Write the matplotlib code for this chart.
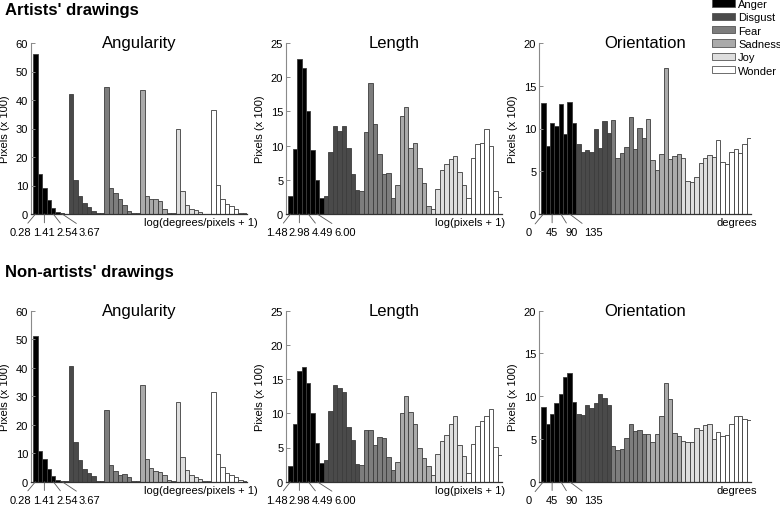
import matplotlib
matplotlib.use('Agg')
import matplotlib.pyplot as plt
from matplotlib.patches import Patch
import numpy as np

plt.rcParams['font.family'] = ['Liberation Sans', 'DejaVu Sans']

emotions = ['Anger', 'Disgust', 'Fear', 'Sadness', 'Joy', 'Wonder']
colors = ['#000000', '#4a4a4a', '#7d7d7d', '#aaaaaa', '#dedede', '#ffffff']

# Artists' drawings (Pixels x 100), 8 bins per emotion
art_angularity = [
    [56.3, 14.1, 9.0, 4.8, 2.2, 0.8, 0.2, 0.1],
    [42.1, 11.8, 6.4, 4.0, 2.6, 1.2, 0.3, 0.3],
    [44.5, 9.0, 7.3, 5.3, 3.3, 1.2, 0.3, 0.3],
    [43.4, 6.4, 5.1, 5.3, 4.6, 1.9, 0.3, 0.3],
    [30.0, 8.1, 3.2, 1.8, 1.3, 0.7, 0.1, 0.1],
    [36.4, 10.1, 5.3, 3.5, 2.8, 1.6, 0.4, 0.2],
]
art_length = [
    [2.6, 9.5, 22.6, 21.4, 15.0, 9.3, 4.9, 2.4],
    [2.7, 9.0, 12.9, 12.1, 12.8, 9.7, 5.9, 3.5],
    [3.4, 12.0, 19.1, 13.2, 8.7, 5.8, 6.0, 2.4],
    [4.3, 14.4, 15.7, 9.6, 10.4, 6.7, 4.5, 1.2],
    [0.8, 3.6, 6.5, 7.3, 8.0, 8.5, 6.2, 4.3],
    [2.4, 8.2, 10.3, 10.4, 12.5, 10.0, 3.4, 2.5],
]
art_orientation = [
    [13.0, 8.0, 10.6, 10.3, 12.9, 9.3, 13.1, 10.6],
    [8.2, 7.2, 7.5, 7.3, 10.0, 7.7, 10.9, 9.5],
    [11.0, 6.6, 7.1, 7.8, 11.3, 7.6, 10.1, 8.9],
    [11.1, 6.3, 5.2, 7.0, 17.1, 6.4, 6.8, 7.0],
    [6.5, 3.9, 3.8, 4.3, 6.0, 6.6, 6.9, 6.7],
    [8.6, 6.1, 5.9, 7.3, 7.6, 7.1, 8.2, 8.9],
]

# Non-artists' drawings
non_angularity = [
    [51.2, 10.6, 7.9, 4.4, 2.1, 0.7, 0.2, 0.1],
    [40.5, 13.8, 7.5, 4.4, 3.2, 2.0, 0.4, 0.2],
    [25.0, 5.9, 3.7, 2.5, 2.7, 1.7, 0.3, 0.2],
    [34.0, 7.8, 4.7, 3.7, 3.4, 2.4, 0.5, 0.3],
    [27.8, 8.6, 4.0, 2.3, 1.5, 0.8, 0.2, 0.1],
    [31.3, 9.7, 5.1, 3.2, 2.3, 1.5, 0.5, 0.2],
]
non_length = [
    [2.3, 8.4, 16.2, 16.8, 14.4, 10.1, 5.7, 2.8],
    [3.1, 10.4, 14.1, 13.7, 13.1, 8.0, 6.1, 2.6],
    [2.5, 7.5, 7.6, 5.3, 6.5, 6.4, 3.6, 1.7],
    [2.9, 10.1, 12.6, 10.2, 8.4, 5.0, 3.5, 2.3],
    [1.0, 4.0, 6.0, 6.8, 8.5, 9.6, 5.3, 3.8],
    [1.2, 5.5, 8.2, 8.9, 9.6, 10.6, 5.1, 3.9],
]
non_orientation = [
    [8.7, 6.7, 7.9, 9.2, 10.3, 12.3, 12.7, 9.3],
    [7.9, 7.8, 9.0, 8.6, 9.2, 10.3, 9.8, 9.0],
    [4.2, 3.7, 3.8, 5.1, 6.8, 5.9, 6.1, 5.6],
    [5.6, 4.7, 5.6, 7.7, 11.6, 9.7, 5.7, 5.3],
    [4.8, 4.7, 4.7, 6.3, 6.1, 6.6, 6.7, 5.0],
    [5.8, 5.3, 5.5, 6.8, 7.7, 7.7, 7.3, 7.2],
]

ang_ticklabels = ['0.28', '1.41', '2.54', '3.67']
len_ticklabels = ['1.48', '2.98', '4.49', '6.00']
ori_ticklabels = ['0', '45', '90', '135']
tick_bins = [0, 2, 4, 6]

W, H = 780, 506
fig = plt.figure(figsize=(W / 100, H / 100), dpi=100)

def px_axes(left, top, width, height):
    return fig.add_axes([left / W, (H - top - height) / H, width / W, height / H])

panels_top = [
    ('Angularity', art_angularity, 60, 10, ang_ticklabels, 'log(degrees/pixels + 1)', 31, 216, [-15, 0, 14, 27], 11),
    ('Length', art_length, 25, 5, len_ticklabels, 'log(pixels + 1)', 286, 216, [-14, 0, 14, 28], 3),
    ('Orientation', art_orientation, 20, 5, ori_ticklabels, 'degrees', 539, 212, [-15, 0, 11, 24], 6),
]
panels_bot = [
    ('Angularity', non_angularity, 60, 10, ang_ticklabels, 'log(degrees/pixels + 1)', 31, 216, [-15, 0, 14, 27], 11),
    ('Length', non_length, 25, 5, len_ticklabels, 'log(pixels + 1)', 286, 216, [-14, 0, 14, 28], 3),
    ('Orientation', non_orientation, 20, 5, ori_ticklabels, 'degrees', 539, 212, [-15, 0, 11, 24], 6),
]

def draw(ax, title, data, ymax, ystep, ticklabels, xlabel, offsets, xl_off, width_px):
    heights = np.concatenate([np.asarray(d) for d in data])
    cols = np.repeat(colors, [len(d) for d in data])
    x = np.arange(len(heights))
    ax.bar(x, heights, width=1.0, color=cols, edgecolor='#3c3c3c', linewidth=0.6)
    ax.set_xlim(-1.0, 47.5)
    ax.set_ylim(0, ymax)
    ax.set_yticks(np.arange(0, ymax + 0.1, ystep))
    ax.set_xticks([])
    for s in ['top', 'right']:
        ax.spines[s].set_visible(False)
    ax.spines['left'].set_color('#8a8a8a')
    ax.spines['left'].set_linewidth(0.8)
    ax.spines['bottom'].set_color('#333333')
    ax.spines['bottom'].set_linewidth(0.9)
    ax.tick_params(axis='y', direction='in', length=3, width=0.7, color='#8a8a8a',
                   labelsize=8, pad=2)
    ax.set_ylabel('Pixels (x 100)', fontsize=8, va='center')
    ax.yaxis.set_label_coords(-26.0 / width_px, 0.5)
    ax.text(0.5, 1.0, title, transform=ax.transAxes, ha='center', va='center', fontsize=12)
    ax.text(1.0 + xl_off / width_px, -8.5 / 171, xlabel, transform=ax.transAxes,
            ha='right', va='center', fontsize=8)
    for b, lab, dx in zip(tick_bins, ticklabels, offsets):
        ax.annotate(lab, xy=(b, 0), xycoords='data',
                    xytext=(dx / 1.389, -18 / 1.389), textcoords='offset points',
                    ha='center', va='center', fontsize=8, annotation_clip=False,
                    arrowprops=dict(arrowstyle='-', lw=0.6, color='#555555',
                                    shrinkA=1, shrinkB=0))

for row_top, panels in [(44, panels_top), (311.7, panels_bot)]:
    for (title, data, ymax, ystep, tl, xl, left, wpx, offs, xl_off) in panels:
        ax = px_axes(left, row_top, wpx, 171)
        draw(ax, title, data, ymax, ystep, tl, xl, offs, xl_off, wpx)

fig.text(5 / W, 1 - 10 / H, "Artists' drawings", fontsize=12, fontweight='bold', ha='left', va='center')
fig.text(5 / W, 1 - 273 / H, "Non-artists' drawings", fontsize=12, fontweight='bold', ha='left', va='center')

handles = [Patch(facecolor=c, edgecolor='#555555', linewidth=0.6) for c in colors]
fig.legend(handles, emotions, loc='upper left', bbox_to_anchor=(712 / W, 1.0),
           frameon=False, fontsize=8, handlelength=2.1, handleheight=0.65,
           handletextpad=0.25, labelspacing=0.3, borderpad=0, borderaxespad=0)

fig.savefig('out.png', dpi=100)
